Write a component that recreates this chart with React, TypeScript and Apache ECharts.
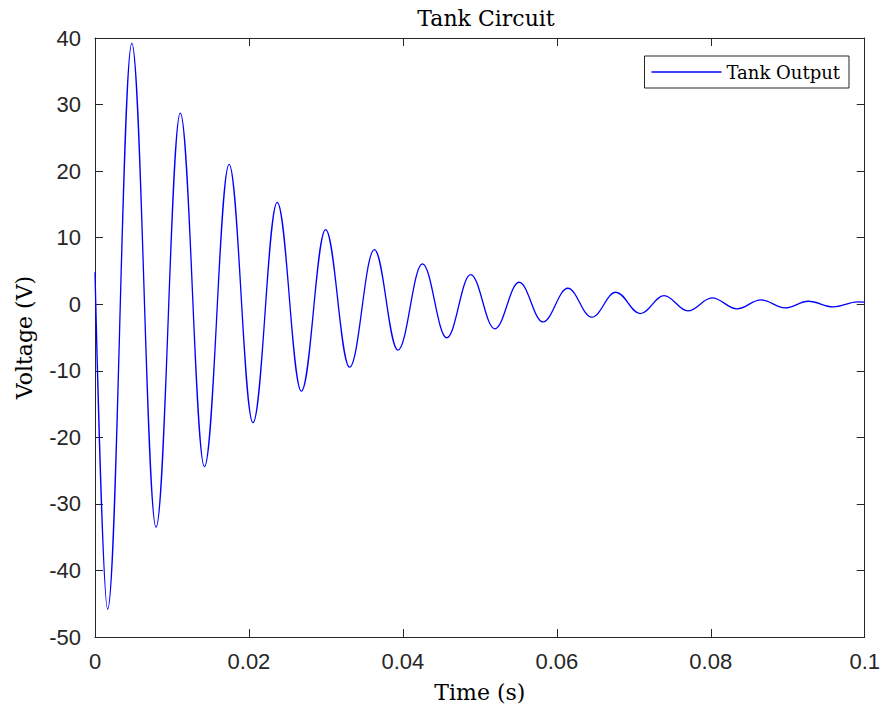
import React, { useEffect, useRef } from "react";
import * as echarts from "echarts";

// Extrema of the tank output (time in s, voltage in V)
const times: number[] = [
  0, 0.00164, 0.00478, 0.00793, 0.01108, 0.01422, 0.01742, 0.02052, 0.02367,
  0.02681, 0.02996, 0.03307, 0.0363, 0.03935, 0.04254, 0.04569, 0.0488,
  0.05194, 0.0551, 0.05819, 0.06143, 0.06453, 0.06767, 0.07083, 0.07393,
  0.07703, 0.08017, 0.08341, 0.08651, 0.08966, 0.09268, 0.09591, 0.0991, 0.1,
];
const volts: number[] = [
  4.8, -45.8, 39.2, -33.5, 28.7, -24.4, 21.0, -17.8, 15.3, -13.05, 11.2,
  -9.45, 8.2, -6.9, 6.05, -5.05, 4.45, -3.7, 3.3, -2.65, 2.4, -1.95, 1.8,
  -1.4, 1.3, -1.0, 0.95, -0.7, 0.65, -0.55, 0.45, -0.4, 0.35, 0.3,
];

const seriesName = "Tank Output";
const titleText = "Tank Circuit";
const xName = "Time (s)";
const yName = "Voltage (V)";

const AXIS = "#262626";
const SERIF = "DejaVu Serif";
const SANS = "Liberation Sans";

export default function App() {
  const ref = useRef<HTMLDivElement>(null);

  useEffect(() => {
    if (!ref.current) return;
    const chart = echarts.init(ref.current, undefined, { renderer: "svg" });
    const data = times.map((t, i) => [t, volts[i]]);

    const xFmt = (v: number) => String(parseFloat(v.toFixed(3)));

    const common = {
      axisLine: { show: true, onZero: false, lineStyle: { color: AXIS, width: 1 } },
      axisTick: { show: true, inside: true, length: 8, lineStyle: { color: AXIS } },
      splitLine: { show: false },
    };

    chart.setOption({
      animation: false,
      backgroundColor: "#ffffff",
      title: {
        text: titleText,
        left: 481,
        top: 2,
        textAlign: "center",
        textStyle: { fontFamily: SERIF, fontSize: 22, fontWeight: "normal", color: "#000" },
      },
      legend: {
        data: [{ name: seriesName, icon: "rect" }],
        right: 34,
        top: 56,
        orient: "vertical",
        itemWidth: 70,
        itemHeight: 1.4,
        padding: [7, 9, 7, 7],
        borderColor: AXIS,
        borderWidth: 1,
        backgroundColor: "#fff",
        textStyle: { fontFamily: SERIF, fontSize: 18, color: "#000" },
      },
      grid: { left: 95, right: 15, top: 38, bottom: 74, containLabel: false },
      xAxis: [
        {
          type: "value",
          min: 0,
          max: 0.1,
          interval: 0.02,
          position: "bottom",
          name: xName,
          nameLocation: "middle",
          nameGap: 44,
          nameTextStyle: { fontFamily: SERIF, fontSize: 22, color: "#000" },
          ...common,
          axisLabel: {
            fontFamily: SANS,
            fontSize: 22,
            color: AXIS,
            margin: 13,
            formatter: xFmt,
          },
        },
        {
          type: "value",
          min: 0,
          max: 0.1,
          interval: 0.02,
          position: "top",
          ...common,
          axisLabel: { show: false },
        },
      ],
      yAxis: [
        {
          type: "value",
          min: -50,
          max: 40,
          interval: 10,
          position: "left",
          name: yName,
          nameLocation: "middle",
          nameGap: 60,
          nameTextStyle: { fontFamily: SERIF, fontSize: 22, color: "#000" },
          ...common,
          axisLabel: { fontFamily: SANS, fontSize: 22, color: AXIS, margin: 14 },
        },
        {
          type: "value",
          min: -50,
          max: 40,
          interval: 10,
          position: "right",
          ...common,
          axisLabel: { show: false },
        },
      ],
      series: [
        {
          name: seriesName,
          type: "line",
          xAxisIndex: 0,
          yAxisIndex: 0,
          data,
          symbol: "none",
          showSymbol: false,
          smooth: 0.38,
          smoothMonotone: "x",
          lineStyle: { color: "#0000ff", width: 1.3 },
          itemStyle: { color: "#0000ff" },
        },
      ],
    });

    return () => chart.dispose();
  }, []);

  return (
    <div
      ref={ref}
      style={{ position: "fixed", left: 0, top: 0, width: 883, height: 711, background: "#fff" }}
    />
  );
}
